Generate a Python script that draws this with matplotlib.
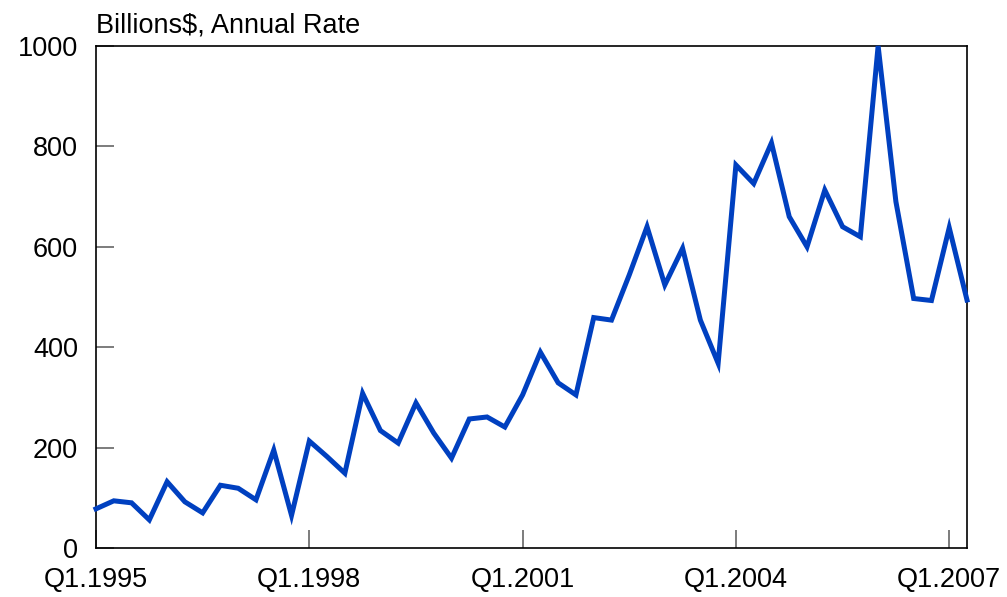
import matplotlib
matplotlib.use("Agg")
import matplotlib.pyplot as plt

plt.rcParams['font.family'] = ['Liberation Sans', 'DejaVu Sans']

quarters = list(range(50))  # Q1.1995 .. Q2.2007
values = [78, 94, 90, 56, 132, 92, 70, 125, 119, 96,
          195, 65, 213, 182, 149, 308, 234, 209, 289, 229,
          179, 257, 261, 241, 305, 390, 329, 305, 459, 454,
          544, 640, 524, 597, 454, 368, 763, 726, 807, 660,
          600, 713, 640, 620, 1000, 690, 497, 493, 638, 494]
tick_pos = [0, 12, 24, 36, 48]
tick_labels = ["Q1.1995", "Q1.1998", "Q1.2001", "Q1.2004", "Q1.2007"]
y_ticks = [0, 200, 400, 600, 800, 1000]

fig = plt.figure(figsize=(10.07, 5.97), dpi=100)
ax = fig.add_axes([96/1007, 1-548/597, (967-96)/1007, (548-46)/597])
ax.plot(quarters, values, color='#0040C0', lw=3.6, solid_joinstyle='miter', clip_on=False, zorder=3)
ax.set_xlim(0, 49)
ax.set_ylim(0, 1000)
ax.set_xticks(tick_pos)
ax.set_xticklabels(tick_labels)
ax.set_yticks(y_ticks)
ax.tick_params(axis='both', direction='in', length=13, width=1.2, color='#666666',
               labelsize=19.5, labelcolor='black')
ax.tick_params(axis='x', pad=13.5)
ax.tick_params(axis='y', pad=13)
for s in ax.spines.values():
    s.set_linewidth(1.2)
    s.set_color('black')
fig.text(96/1007, 1-32/597, "Billions$, Annual Rate", fontsize=19.5, ha='left', va='baseline')
fig.savefig("out.png", dpi=100)
